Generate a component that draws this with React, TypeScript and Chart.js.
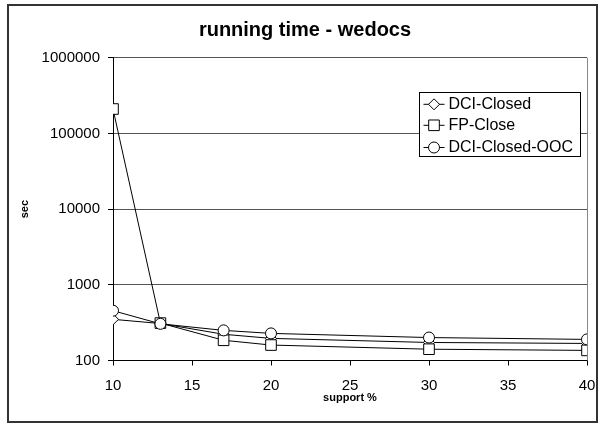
import React, { useEffect, useRef } from "react";
import { Chart, registerables } from "chart.js";

Chart.register(...registerables);

const supportValues = [10, 13, 17, 20, 30, 40];
const dciClosed = [350, 308, 222, 196, 173, 168];
const fpClose = [210000, 312, 185, 160, 141, 136];
const dciClosedOoc = [455, 305, 250, 228, 201, 190];
const yTickValues = [100, 1000, 10000, 100000, 1000000];
const xTickStep = 5;

const FONT = "Arial, 'Liberation Sans', sans-serif";

const toPoints = (arr: number[]) => supportValues.map((x, i) => ({ x, y: arr[i] }));

const frameAndLegend = {
  id: "frameAndLegend",
  afterDatasetsDraw(chart: any) {
    const { ctx, chartArea } = chart;
    ctx.save();
    // plot area right border
    ctx.strokeStyle = "#888888";
    ctx.lineWidth = 1;
    ctx.beginPath();
    ctx.moveTo(chartArea.right + 0.5, chartArea.top);
    ctx.lineTo(chartArea.right + 0.5, chartArea.bottom);
    ctx.stroke();

    // legend box
    const bw = 161;
    const bh = 64;
    const bx = Math.round(chartArea.right - 7 - bw) + 0.5;
    const by = Math.round(chartArea.top + 34) + 0.5;
    ctx.fillStyle = "#ffffff";
    ctx.fillRect(bx, by, bw, bh);
    ctx.strokeStyle = "#000000";
    ctx.lineWidth = 1;
    ctx.strokeRect(bx, by, bw, bh);

    const rows = [11.8, 32.8, 55];
    chart.data.datasets.forEach((ds: any, i: number) => {
      const cy = by + rows[i];
      ctx.strokeStyle = "#000";
      ctx.lineWidth = 1;
      ctx.beginPath();
      ctx.moveTo(bx + 4, cy);
      ctx.lineTo(bx + 25, cy);
      ctx.stroke();
      ctx.fillStyle = "#fff";
      const style = ds.pointStyle;
      const r = ds.pointRadius;
      const mx = bx + 14.5;
      ctx.beginPath();
      if (style === "circle") {
        ctx.arc(mx, cy, r, 0, Math.PI * 2);
      } else if (style === "rect") {
        const s = r * Math.SQRT1_2;
        ctx.rect(mx - s, cy - s, 2 * s, 2 * s);
      } else {
        ctx.moveTo(mx, cy - r);
        ctx.lineTo(mx + r, cy);
        ctx.lineTo(mx, cy + r);
        ctx.lineTo(mx - r, cy);
        ctx.closePath();
      }
      ctx.fill();
      ctx.stroke();
      ctx.fillStyle = "#000";
      ctx.font = "16px " + FONT;
      ctx.textBaseline = "middle";
      ctx.textAlign = "left";
      ctx.fillText(ds.label, bx + 29, cy + 0.5);
    });
    ctx.restore();
  },
};

export default function App() {
  const ref = useRef<HTMLCanvasElement>(null);
  useEffect(() => {
    if (!ref.current) return;
    const common = {
      borderColor: "#000",
      borderWidth: 1,
      pointBackgroundColor: "#fff",
      pointBorderColor: "#000",
      pointBorderWidth: 1,
      fill: false,
      tension: 0,
    };
    const chart = new Chart(ref.current, {
      type: "line",
      data: {
        datasets: [
          { ...common, label: "DCI-Closed", data: toPoints(dciClosed), pointStyle: "rectRot", pointRadius: 5.5, order: 2 },
          { ...common, label: "FP-Close", data: toPoints(fpClose), pointStyle: "rect", pointRadius: 7.5, order: 1 },
          { ...common, label: "DCI-Closed-OOC", data: toPoints(dciClosedOoc), pointStyle: "circle", pointRadius: 5.5, order: 0 },
        ] as any,
      },
      options: {
        animation: false,
        responsive: false,
        layout: { padding: { left: 14, right: 9, top: 0, bottom: 0 } },
        plugins: {
          legend: { display: false },
          tooltip: { enabled: false },
          title: {
            display: true,
            text: "running time - wedocs",
            color: "#000",
            font: { family: FONT, size: 20, weight: "bold" },
            padding: { top: 12, bottom: 15.7 },
          },
        },
        scales: {
          x: {
            type: "linear",
            min: 10,
            max: 40,
            ticks: { stepSize: xTickStep, color: "#000", font: { family: FONT, size: 15 }, padding: 11, maxRotation: 0 },
            grid: { drawOnChartArea: false, drawTicks: true, tickLength: 5, tickColor: "#000" },
            border: { color: "#000", width: 1 },
            title: {
              display: true,
              text: "support %",
              color: "#000",
              font: { family: FONT, size: 11, weight: "bold" },
              padding: { top: 0, bottom: 16.2 },
            },
            afterFit: (scale: any) => {
              scale.height = 60.5;
              scale.paddingLeft = 0;
              scale.paddingRight = 0;
            },
          },
          y: {
            type: "logarithmic",
            min: 100,
            max: 1000000,
            afterBuildTicks: (scale: any) => {
              scale.ticks = yTickValues.map((v) => ({ value: v }));
            },
            ticks: {
              color: "#000",
              font: { family: FONT, size: 15 },
              padding: 8,
              callback: (v: any) => String(v),
            },
            grid: { color: "#555555", lineWidth: 1, tickLength: 5, tickColor: "#000" },
            border: { color: "#000", width: 1 },
            title: {
              display: true,
              text: "sec",
              color: "#000",
              font: { family: FONT, size: 11, weight: "bold" },
              padding: { top: -4.6, bottom: 0 },
            },
            afterFit: (scale: any) => {
              scale.width = 90;
            },
          },
        },
      } as any,
      plugins: [frameAndLegend],
    });
    return () => chart.destroy();
  }, []);

  return (
    <div
      style={{
        position: "absolute",
        left: 7,
        top: 4,
        width: 587,
        height: 415,
        border: "2px solid #333",
        background: "#fff",
      }}
    >
      <canvas ref={ref} width={587} height={415} style={{ display: "block" }} />
    </div>
  );
}
